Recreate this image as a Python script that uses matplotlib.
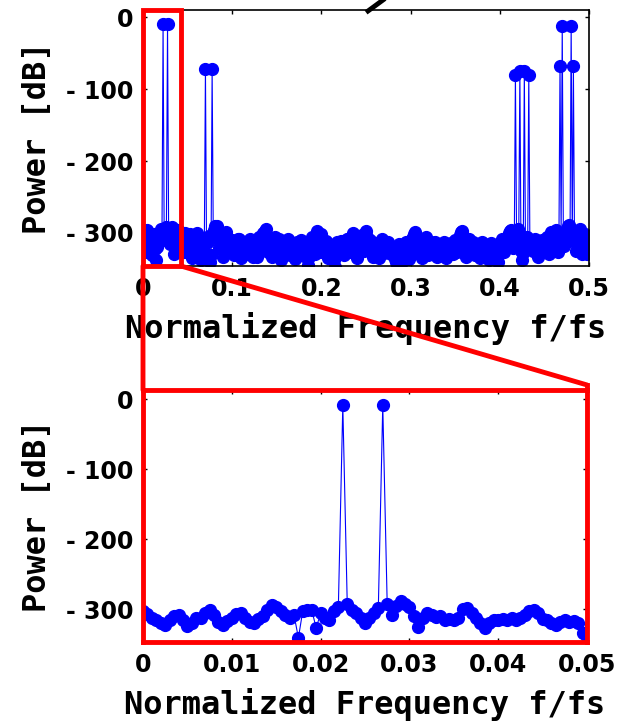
import numpy as np
import matplotlib
matplotlib.use("Agg")
import matplotlib.pyplot as plt
from matplotlib.patches import Rectangle, ConnectionPatch
from matplotlib.lines import Line2D

# ---------------- data ----------------
# full band spectrum, bins every 0.00125 (0 .. 0.5)
full_step = 0.00125
full_noise_db = [
    -304, -312, -326, -309, -296, -305, -318, -327, -331, -316, -301, -322, -337, -320, -313, -300, -295, -310, -322, -305,
    -308, -292, -289, -304, -316, -299, -292, -310, -329, -315, -303, -296, -297, -312, -320, -305, -310, -326, -300, -315,
    -318, -309, -302, -321, -335, -318, -311, -303, -300, -314, -326, -333, -338, -322, -307, -316, -322, -330, -313, -304,
    -340, -331, -314, -300, -296, -291, -290, -305, -321, -312, -305, -318, -333, -310, -299, -308, -316, -325, -327, -312,
    -310, -322, -331, -320, -318, -309, -308, -326, -335, -315, -322, -329, -313, -320, -329, -317, -309, -318, -324, -333,
    -316, -328, -333, -314, -306, -315, -322, -309, -300, -297, -295, -312, -327, -318, -311, -324, -334, -319, -305, -314,
    -320, -314, -309, -326, -337, -321, -315, -329, -326, -314, -308, -319, -331, -324, -318, -327, -336, -322, -312, -325,
    -325, -316, -310, -324, -332, -321, -317, -330, -344, -333, -322, -310, -306, -318, -329, -312, -297, -300, -314, -326,
    -302, -311, -323, -316, -311, -327, -335, -324, -318, -322, -329, -338, -347, -330, -313, -321, -326, -317, -311, -320,
    -331, -322, -316, -309, -308, -318, -327, -312, -300, -306, -321, -329, -335, -320, -312, -305, -303, -316, -325, -309,
    -297, -305, -318, -311, -310, -324, -333, -322, -314, -318, -322, -331, -335, -320, -309, -317, -328, -322, -316, -327,
    -313, -321, -330, -325, -320, -329, -336, -341, -344, -330, -315, -327, -341, -333, -324, -318, -313, -322, -327, -336,
    -316, -308, -305, -301, -299, -312, -328, -320, -311, -324, -335, -327, -318, -311, -306, -317, -331, -322, -313, -320,
    -322, -317, -313, -325, -334, -326, -317, -321, -327, -319, -313, -326, -335, -328, -320, -316, -314, -323, -329, -318,
    -310, -318, -326, -312, -303, -299, -297, -306, -318, -327, -334, -320, -309, -315, -322, -318, -313, -324, -331, -320,
    -316, -326, -335, -322, -313, -319, -327, -323, -320, -330, -338, -325, -314, -322, -331, -326, -322, -331, -340, -328,
    -318, -312, -308, -317, -327, -318, -312, -305, -300, -297, -296, -308, -321, -313, -306, -299, -294, -302, -315, -325,
    -337, -328, -320, -312, -306, -318, -331, -322, -313, -318, -325, -315, -308, -320, -334, -326, -318, -312, -310, -321,
    -322, -312, -305, -318, -330, -313, -299, -306, -316, -304, -296, -311, -327, -318, -310, -300, -292, -305, -318, -308,
    -296, -290, -289, -304, -318, -308, -300, -312, -325, -315, -306, -298, -294, -310, -329, -316, -301, -312, -330, -318,
    -305,
]
full_peak_freq = [0.0225, 0.0275, 0.0700, 0.0775,
                  0.4175, 0.4225, 0.4275, 0.4325,
                  0.4675, 0.4700, 0.4800, 0.4825]
full_peak_db = [-10, -10, -72, -72,
                -80, -75, -75, -80,
                -68, -12, -12, -68]

# detail of the low band, bins every 0.0005 (0 .. 0.0505)
zoom_step = 0.0005
zoom_noise_db = [
    -303, -307, -312, -316, -320, -322, -316, -310, -309, -316,
    -324, -320, -313, -312, -305, -301, -308, -318, -322, -317,
    -312, -307, -306, -312, -318, -320, -314, -310, -301, -294,
    -297, -303, -309, -312, -308, -341, -302, -301, -301, -327,
    -306, -313, -316, -303, -297, -292, -292, -301, -306, -313,
    -320, -312, -305, -299, -296, -293, -308, -295, -288, -292,
    -297, -310, -326, -313, -306, -308, -311, -310, -316, -314,
    -316, -312, -300, -299, -305, -312, -320, -327, -320, -316,
    -316, -314, -316, -313, -316, -312, -308, -302, -301, -306,
    -314, -316, -320, -323, -318, -316, -318, -317, -320, -334,
    -340, -322,
]
zoom_peak_freq = [0.0225, 0.0270]
zoom_peak_db = [-9, -9]

full_xticks = [0, 0.1, 0.2, 0.3, 0.4, 0.5]
full_xticklabels = ["0", "0.1", "0.2", "0.3", "0.4", "0.5"]
zoom_xticks = [0, 0.01, 0.02, 0.03, 0.04, 0.05]
zoom_xticklabels = ["0", "0.01", "0.02", "0.03", "0.04", "0.05"]
yticks = [-300, -200, -100, 0]
yticklabels = ["- 300", "- 200", "- 100", "0"]


def build_spectrum(step, noise, peak_freq, peak_db):
    freq = np.arange(len(noise)) * step
    power = np.array(noise, dtype=float)
    for pf, pdb in zip(peak_freq, peak_db):
        power[int(round(pf / step))] = pdb
    return freq, power


f_full, p_full = build_spectrum(full_step, full_noise_db, full_peak_freq, full_peak_db)
f_zoom, p_zoom = build_spectrum(zoom_step, zoom_noise_db, zoom_peak_freq, zoom_peak_db)

# ---------------- figure ----------------
W, H = 621, 728
fig = plt.figure(figsize=(W / 100, H / 100), dpi=100)

def px_rect(left, top, right, bottom):
    return [left / W, 1 - bottom / H, (right - left) / W, (bottom - top) / H]

ax1 = fig.add_axes(px_rect(143, 10, 589, 266))
ax2 = fig.add_axes(px_rect(143, 390, 587, 642))

tick_font = dict(family="DejaVu Sans", weight="bold", size=17)
label_font = dict(family="DejaVu Sans Mono", weight="bold", size=23)
blue = (0, 0, 1)

for ax, f, p, xt, xtl, xmax, ylim in [
    (ax1, f_full, p_full, full_xticks, full_xticklabels, 0.5, (-346, 10)),
    (ax2, f_zoom, p_zoom, zoom_xticks, zoom_xticklabels, 0.05, (-347, 13)),
]:
    ax.plot(f, p, "-o", color=blue, lw=0.8, ms=8.5, mfc=blue, mec=blue)
    ax.set_xlim(0, xmax)
    ax.set_ylim(*ylim)
    ax.set_xticks(xt)
    ax.set_xticklabels(xtl, fontdict=tick_font)
    ax.set_yticks(yticks)
    ax.set_yticklabels(yticklabels, fontdict=tick_font)
    ax.tick_params(direction="in", length=3, width=1, top=True, right=True)
    ax.tick_params(axis="x", pad=8)
    ax.tick_params(axis="y", pad=7)
    ax.set_xlabel("Normalized Frequency f/fs", fontdict=label_font, labelpad=8)
    ax.set_ylabel("Power [dB]", fontdict=label_font, labelpad=10)

for sp in ax1.spines.values():
    sp.set_linewidth(1.2)

# zoom frame: the detail axes are outlined in red
red = (1, 0, 0)
for sp in ax2.spines.values():
    sp.set_color(red)
    sp.set_linewidth(3.5)

zoom_edge = 0.0425
ax1.add_patch(Rectangle((0, ax1.get_ylim()[0]), zoom_edge,
                        ax1.get_ylim()[1] - ax1.get_ylim()[0],
                        fill=False, ec=red, lw=3.5, clip_on=False, zorder=5))

con_left = ConnectionPatch(xyA=(0, ax1.get_ylim()[0]), coordsA=ax1.transData,
                           xyB=(0, 1), coordsB=ax2.transAxes,
                           color=red, lw=3.5)
con_right = ConnectionPatch(xyA=(zoom_edge, ax1.get_ylim()[0]), coordsA=ax1.transData,
                            xyB=(1, 1.02), coordsB=ax2.transAxes,
                            color=red, lw=3.5)
fig.add_artist(con_left)
fig.add_artist(con_right)
fig.add_artist(Line2D([1.0, 1.0], [1.0, 1.02], transform=ax2.transAxes,
                      color=red, lw=3.5))

# pointer stroke entering from above
fig.add_artist(Line2D([383 / W, 368 / W], [1 - 0 / H, 1 - 11 / H],
                      transform=fig.transFigure, color="black", lw=3.5))

fig.savefig("out.png", dpi=100)
